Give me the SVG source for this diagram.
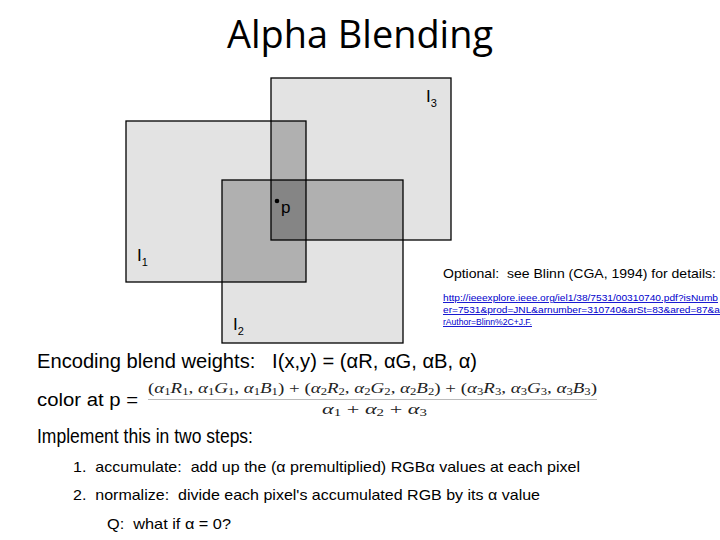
<svg xmlns="http://www.w3.org/2000/svg" width="720" height="540" viewBox="0 0 720 540" xml:space="preserve">
<style>
text{white-space:pre}
.sans{font-family:"Liberation Sans",Arial,sans-serif;fill:#000}
.lbl{font-family:"Liberation Sans",Arial,sans-serif;font-size:17px;fill:#000}
.sub{font-size:11px}
.link{font-family:"Liberation Sans",Arial,sans-serif;font-size:9px;fill:#0000cc;text-decoration:underline}
.math{font-family:"Liberation Serif","Times New Roman",serif;font-size:15px;fill:#222}
.i{font-style:italic}
.s{font-size:10px}
.frame{fill:none;stroke:#000;stroke-width:1.3}
</style>
<rect width="720" height="540" fill="#fff"/>
<text x="360" y="48" font-family="'Open Sans','Liberation Sans',sans-serif" font-size="39" text-anchor="middle" textLength="266" lengthAdjust="spacingAndGlyphs" fill="#000">Alpha Blending</text>
<g id="shapes">
<rect x="126" y="121" width="180" height="161" fill="#e3e3e3"/>
<rect x="271" y="78" width="180" height="162" fill="#e3e3e3"/>
<rect x="222" y="180" width="181" height="163" fill="#e3e3e3"/>
<rect x="271" y="121" width="35" height="119" fill="#b0b0b0"/>
<rect x="222" y="180" width="84" height="102" fill="#b0b0b0"/>
<rect x="271" y="180" width="132" height="60" fill="#b0b0b0"/>
<rect x="271" y="180" width="35" height="60" fill="#858585"/>
<rect class="frame" x="126" y="121" width="180" height="161"/>
<rect class="frame" x="271" y="78" width="180" height="162"/>
<rect class="frame" x="222" y="180" width="181" height="163"/>
</g>
<g id="node-I3"><text class="lbl" x="426" y="102">I<tspan class="sub" dy="5">3</tspan></text></g>
<g id="node-I1"><text class="lbl" x="137" y="261">I<tspan class="sub" dy="5">1</tspan></text></g>
<g id="node-I2"><text class="lbl" x="233" y="330">I<tspan class="sub" dy="5">2</tspan></text></g>
<g id="node-p"><circle cx="277" cy="201" r="2.3" fill="#000"/><text class="lbl" x="281" y="213">p</text></g>
<text class="sans" x="443" y="278" font-size="13" textLength="273" lengthAdjust="spacingAndGlyphs">Optional:  see Blinn (CGA, 1994) for details:</text>
<text class="link" x="443" y="301" textLength="275" lengthAdjust="spacingAndGlyphs">http://ieeexplore.ieee.org/iel1/38/7531/00310740.pdf?isNumb</text>
<text class="link" x="443" y="313" textLength="277" lengthAdjust="spacingAndGlyphs">er=7531&amp;prod=JNL&amp;arnumber=310740&amp;arSt=83&amp;ared=87&amp;a</text>
<text class="link" x="443" y="325" textLength="89" lengthAdjust="spacingAndGlyphs">rAuthor=Blinn%2C+J.F.</text>
<text class="sans" x="37" y="368" font-size="20" textLength="440" lengthAdjust="spacingAndGlyphs">Encoding blend weights:   I(x,y) = (αR, αG, αB, α)</text>
<text class="sans" x="37" y="406" font-size="18" textLength="101" lengthAdjust="spacingAndGlyphs">color at p =</text>
<text class="math" x="148" y="393" textLength="449" lengthAdjust="spacingAndGlyphs">(<tspan class="i">α</tspan><tspan class="s" dy="2">1</tspan><tspan class="i" dy="-2">R</tspan><tspan class="s" dy="2">1</tspan><tspan dy="-2">, </tspan><tspan class="i">α</tspan><tspan class="s" dy="2">1</tspan><tspan class="i" dy="-2">G</tspan><tspan class="s" dy="2">1</tspan><tspan dy="-2">, </tspan><tspan class="i">α</tspan><tspan class="s" dy="2">1</tspan><tspan class="i" dy="-2">B</tspan><tspan class="s" dy="2">1</tspan><tspan dy="-2">) + (</tspan><tspan class="i">α</tspan><tspan class="s" dy="2">2</tspan><tspan class="i" dy="-2">R</tspan><tspan class="s" dy="2">2</tspan><tspan dy="-2">, </tspan><tspan class="i">α</tspan><tspan class="s" dy="2">2</tspan><tspan class="i" dy="-2">G</tspan><tspan class="s" dy="2">2</tspan><tspan dy="-2">, </tspan><tspan class="i">α</tspan><tspan class="s" dy="2">2</tspan><tspan class="i" dy="-2">B</tspan><tspan class="s" dy="2">2</tspan><tspan dy="-2">) + (</tspan><tspan class="i">α</tspan><tspan class="s" dy="2">3</tspan><tspan class="i" dy="-2">R</tspan><tspan class="s" dy="2">3</tspan><tspan dy="-2">, </tspan><tspan class="i">α</tspan><tspan class="s" dy="2">3</tspan><tspan class="i" dy="-2">G</tspan><tspan class="s" dy="2">3</tspan><tspan dy="-2">, </tspan><tspan class="i">α</tspan><tspan class="s" dy="2">3</tspan><tspan class="i" dy="-2">B</tspan><tspan class="s" dy="2">3</tspan><tspan dy="-2">)</tspan></text>
<line x1="148" y1="399.5" x2="597" y2="399.5" stroke="#bbb" stroke-width="1"/>
<text class="math" x="322" y="414" textLength="105" lengthAdjust="spacingAndGlyphs"><tspan class="i">α</tspan><tspan class="s" dy="2">1</tspan><tspan dy="-2"> + </tspan><tspan class="i">α</tspan><tspan class="s" dy="2">2</tspan><tspan dy="-2"> + </tspan><tspan class="i">α</tspan><tspan class="s" dy="2">3</tspan></text>
<text class="sans" x="37" y="443" font-size="20" textLength="216" lengthAdjust="spacingAndGlyphs">Implement this in two steps:</text>
<text class="sans" x="73" y="472" font-size="15" textLength="507" lengthAdjust="spacingAndGlyphs">1.  accumulate:  add up the (α premultiplied) RGBα values at each pixel</text>
<text class="sans" x="73" y="500" font-size="15" textLength="467" lengthAdjust="spacingAndGlyphs">2.  normalize:  divide each pixel's accumulated RGB by its α value</text>
<text class="sans" x="107" y="529" font-size="15" textLength="124" lengthAdjust="spacingAndGlyphs">Q:  what if α = 0?</text>
</svg>
